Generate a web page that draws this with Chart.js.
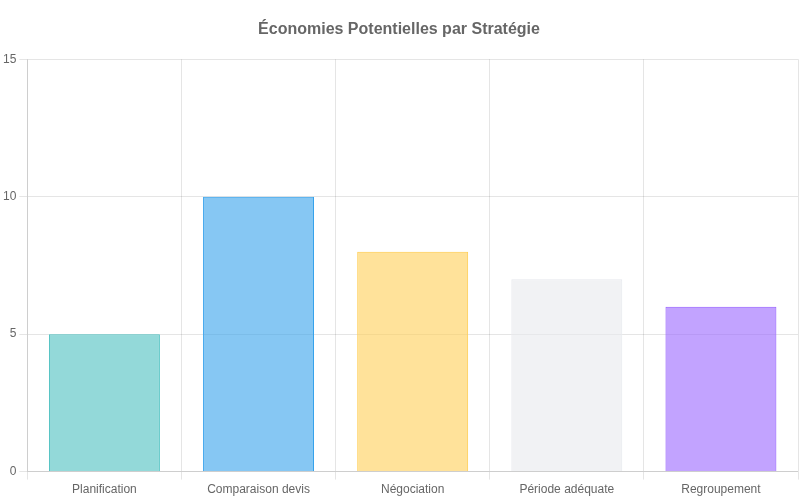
<!DOCTYPE html>
<html><head><meta charset="utf-8">
<script src="https://cdn.jsdelivr.net/npm/chart.js@4"></script>
<style>body{margin:0;background:#fff}#w{width:800px;height:500px}</style>
</head><body><div id="w"><canvas id="c"></canvas></div>
<script>
const categories = ["Planification","Comparaison devis","Négociation","Période adéquate","Regroupement"];
const savings = [5,10,8,7,6];
const fills = ["rgba(75,192,192,0.6)","rgba(54,162,235,0.6)","rgba(255,206,86,0.6)","rgba(231,233,237,0.6)","rgba(153,102,255,0.6)"];
const borders = ["rgba(75,192,192,1)","rgba(54,162,235,1)","rgba(255,206,86,1)","rgba(231,233,237,1)","rgba(153,102,255,1)"];
Chart.defaults.font.family = "'Liberation Sans', Arial, sans-serif";
Chart.defaults.color = "#666";
new Chart(document.getElementById('c'), {
  type: 'bar',
  data: { labels: categories, datasets: [{ label: 'Économies', data: savings, backgroundColor: fills, borderColor: borders, borderWidth: 1 }] },
  options: {
    responsive: true, maintainAspectRatio: false, animation: false,
    layout: { padding: { top: 10, right: 2 } },
    plugins: {
      legend: { display: false },
      title: { display: true, text: 'Économies Potentielles par Stratégie', font: { size: 16, weight: 'bold' }, padding: { top: 10, bottom: 20 } }
    },
    scales: {
      y: { min: 0, max: 15, ticks: { stepSize: 5 } },
      x: {}
    }
  }
});
</script></body></html>
